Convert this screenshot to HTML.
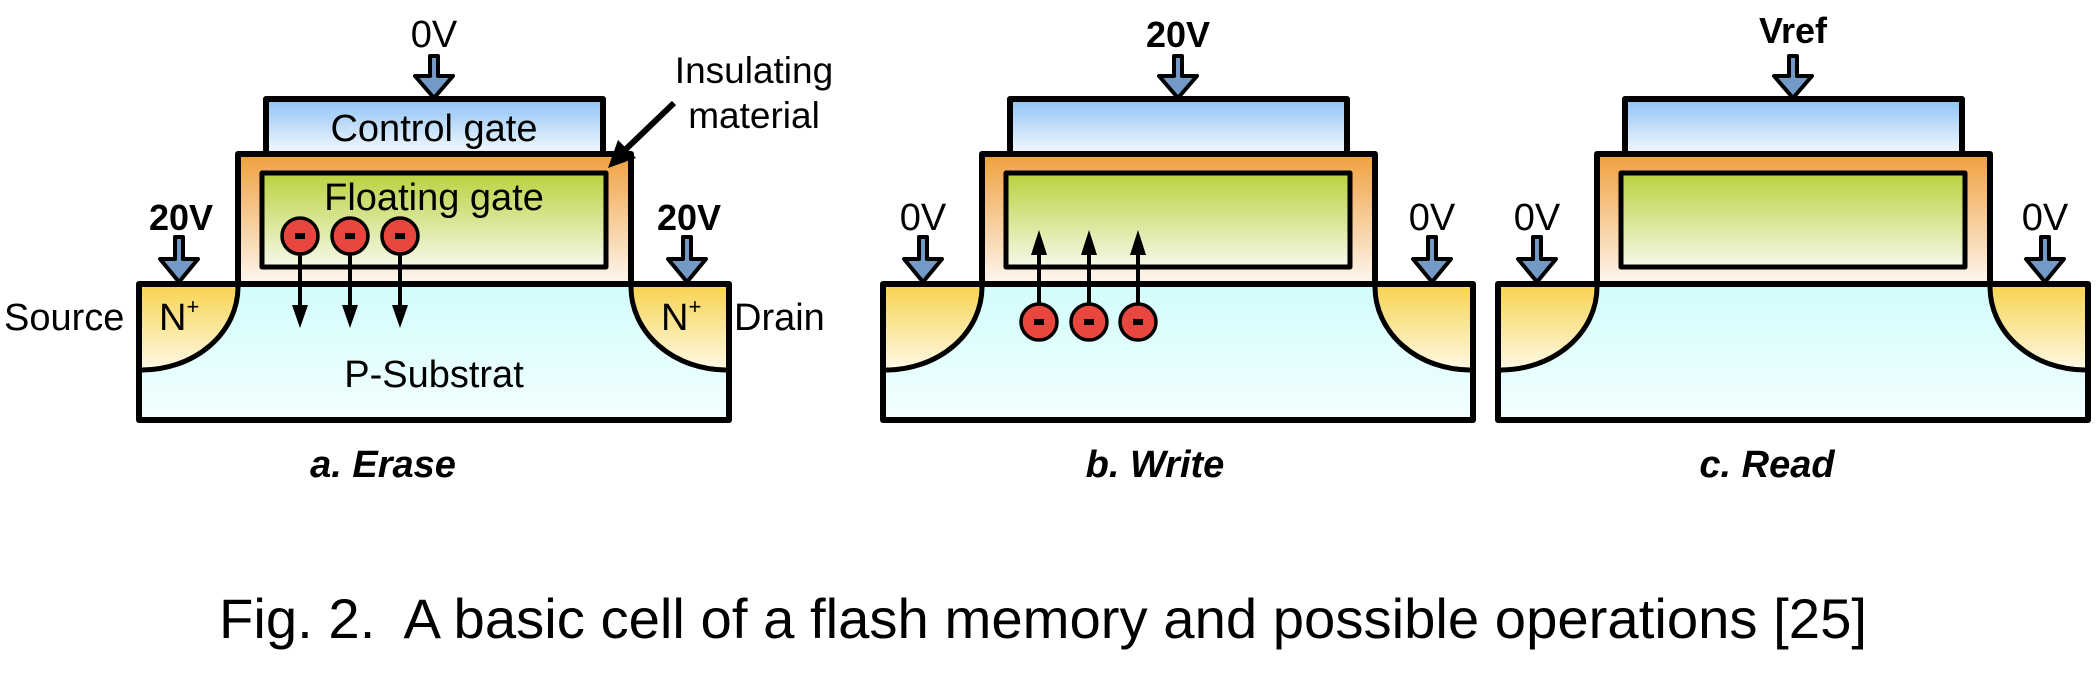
<!DOCTYPE html>
<html><head><meta charset="utf-8"><style>html,body{margin:0;padding:0;background:#fff}svg{display:block}</style></head>
<body>
<svg width="2098" height="678" viewBox="0 0 2098 678" xmlns="http://www.w3.org/2000/svg" font-family="Liberation Sans, Arial, sans-serif">
<defs>
<linearGradient id="cg" x1="0" y1="0" x2="0" y2="1"><stop offset="0" stop-color="#8ec3f5"/><stop offset="1" stop-color="#f5f9fe"/></linearGradient>
<linearGradient id="ins" x1="0" y1="0" x2="0" y2="1"><stop offset="0" stop-color="#f0a03e"/><stop offset="1" stop-color="#fdf7f0"/></linearGradient>
<linearGradient id="fg" x1="0" y1="0" x2="0" y2="1"><stop offset="0" stop-color="#b8d23e"/><stop offset="1" stop-color="#f6f9ea"/></linearGradient>
<linearGradient id="sub" x1="0" y1="0" x2="0" y2="1"><stop offset="0" stop-color="#d2fcfc"/><stop offset="1" stop-color="#f3ffff"/></linearGradient>
<linearGradient id="np" x1="0" y1="0" x2="0" y2="1"><stop offset="0" stop-color="#f8d453"/><stop offset="1" stop-color="#fdf9e6"/></linearGradient>
<g id="cell">
  <rect x="0" y="284" width="590" height="136" fill="url(#sub)" stroke="#000" stroke-width="6" stroke-linejoin="round"/>
  <path d="M3 287 H99 A96 83 0 0 1 3 370 Z" fill="url(#np)"/>
  <path d="M99 287 A96 83 0 0 1 3 370" fill="none" stroke="#000" stroke-width="5"/>
  <path d="M587 287 H492 A95 83 0 0 0 587 370 Z" fill="url(#np)"/>
  <path d="M492 287 A95 83 0 0 0 587 370" fill="none" stroke="#000" stroke-width="5"/>
  <rect x="127" y="99" width="337" height="55" fill="url(#cg)" stroke="#000" stroke-width="6" stroke-linejoin="round"/>
  <rect x="99" y="154" width="393" height="130" fill="url(#ins)" stroke="#000" stroke-width="6" stroke-linejoin="round"/>
  <rect x="123" y="173" width="344" height="94" fill="url(#fg)" stroke="#000" stroke-width="5" stroke-linejoin="round"/>
  <line x1="0" y1="284" x2="590" y2="284" stroke="#000" stroke-width="6"/>
</g>
<g id="bigarr"><path d="M-4 56 H4 V76 H19 L0 98 L-19 76 H-4 Z" fill="#7399c6" stroke="#000" stroke-width="4" stroke-linejoin="round"/></g>
<g id="sarr"><path d="M-4 237 H4 V259 H19 L0 282 L-19 259 H-4 Z" fill="#7399c6" stroke="#000" stroke-width="4" stroke-linejoin="round"/></g>
<g id="el"><circle r="18" fill="#e8473f" stroke="#000" stroke-width="3.5"/><rect x="-5" y="-3" width="10" height="6" fill="#000"/></g>
</defs>

<!-- Panel a -->
<g transform="translate(139,0)">
  <use href="#cell"/>
  <use href="#bigarr" x="295"/>
  <use href="#sarr" x="40"/>
  <use href="#sarr" x="548"/>
  <g stroke="#000" stroke-width="4">
    <line x1="161" y1="252" x2="161" y2="310"/><line x1="211" y1="252" x2="211" y2="310"/><line x1="261" y1="252" x2="261" y2="310"/>
  </g>
  <g fill="#000"><path d="M153 305 L169 305 L161 328 Z"/><path d="M203 305 L219 305 L211 328 Z"/><path d="M253 305 L269 305 L261 328 Z"/></g>
  <use href="#el" x="161" y="236"/><use href="#el" x="211" y="236"/><use href="#el" x="261" y="236"/>
  <text x="295" y="47" font-size="38" text-anchor="middle">0V</text>
  <text x="42" y="230" font-size="36" font-weight="bold" text-anchor="middle">20V</text>
  <text x="550" y="230" font-size="36" font-weight="bold" text-anchor="middle">20V</text>
  <text x="295" y="141" font-size="38" text-anchor="middle">Control gate</text>
  <text x="295" y="210" font-size="38" text-anchor="middle">Floating gate</text>
  <text x="295" y="387" font-size="38" text-anchor="middle">P-Substrat</text>
  <text x="20" y="330" font-size="38">N<tspan font-size="22" dy="-16">+</tspan></text>
  <text x="522" y="330" font-size="38">N<tspan font-size="22" dy="-16">+</tspan></text>
  <text x="244" y="477" font-size="38" font-weight="bold" font-style="italic" text-anchor="middle">a. Erase</text>
</g>
<text x="4" y="330" font-size="38">Source</text>
<text x="734" y="330" font-size="38">Drain</text>
<text x="754" y="83" font-size="37" text-anchor="middle">Insulating</text>
<text x="754" y="128" font-size="37" text-anchor="middle">material</text>
<line x1="674" y1="103" x2="625" y2="150" stroke="#000" stroke-width="6"/>
<path d="M608 168 L618 140 L636 158 Z" fill="#000"/>

<!-- Panel b -->
<g transform="translate(883,0)">
  <use href="#cell"/>
  <use href="#bigarr" x="295"/>
  <use href="#sarr" x="40"/>
  <use href="#sarr" x="549"/>
  <g stroke="#000" stroke-width="4">
    <line x1="156" y1="305" x2="156" y2="250"/><line x1="206" y1="305" x2="206" y2="250"/><line x1="255" y1="305" x2="255" y2="250"/>
  </g>
  <g fill="#000"><path d="M148 255 L164 255 L156 230 Z"/><path d="M198 255 L214 255 L206 230 Z"/><path d="M247 255 L263 255 L255 230 Z"/></g>
  <use href="#el" x="156" y="322"/><use href="#el" x="206" y="322"/><use href="#el" x="255" y="322"/>
  <text x="295" y="47" font-size="36" font-weight="bold" text-anchor="middle">20V</text>
  <text x="40" y="230" font-size="38" text-anchor="middle">0V</text>
  <text x="549" y="230" font-size="38" text-anchor="middle">0V</text>
  <text x="272" y="477" font-size="38" font-weight="bold" font-style="italic" text-anchor="middle">b. Write</text>
</g>

<!-- Panel c -->
<g transform="translate(1498,0)">
  <use href="#cell"/>
  <use href="#bigarr" x="295"/>
  <use href="#sarr" x="39"/>
  <use href="#sarr" x="547"/>
  <text x="295" y="43" font-size="36" font-weight="bold" text-anchor="middle">Vref</text>
  <text x="39" y="230" font-size="38" text-anchor="middle">0V</text>
  <text x="547" y="230" font-size="38" text-anchor="middle">0V</text>
  <text x="269" y="477" font-size="38" font-weight="bold" font-style="italic" text-anchor="middle">c. Read</text>
</g>

<text x="219" y="638" font-size="56" textLength="1648" lengthAdjust="spacingAndGlyphs" xml:space="preserve">Fig. 2.  A basic cell of a flash memory and possible operations [25]</text>
</svg>
</body></html>
